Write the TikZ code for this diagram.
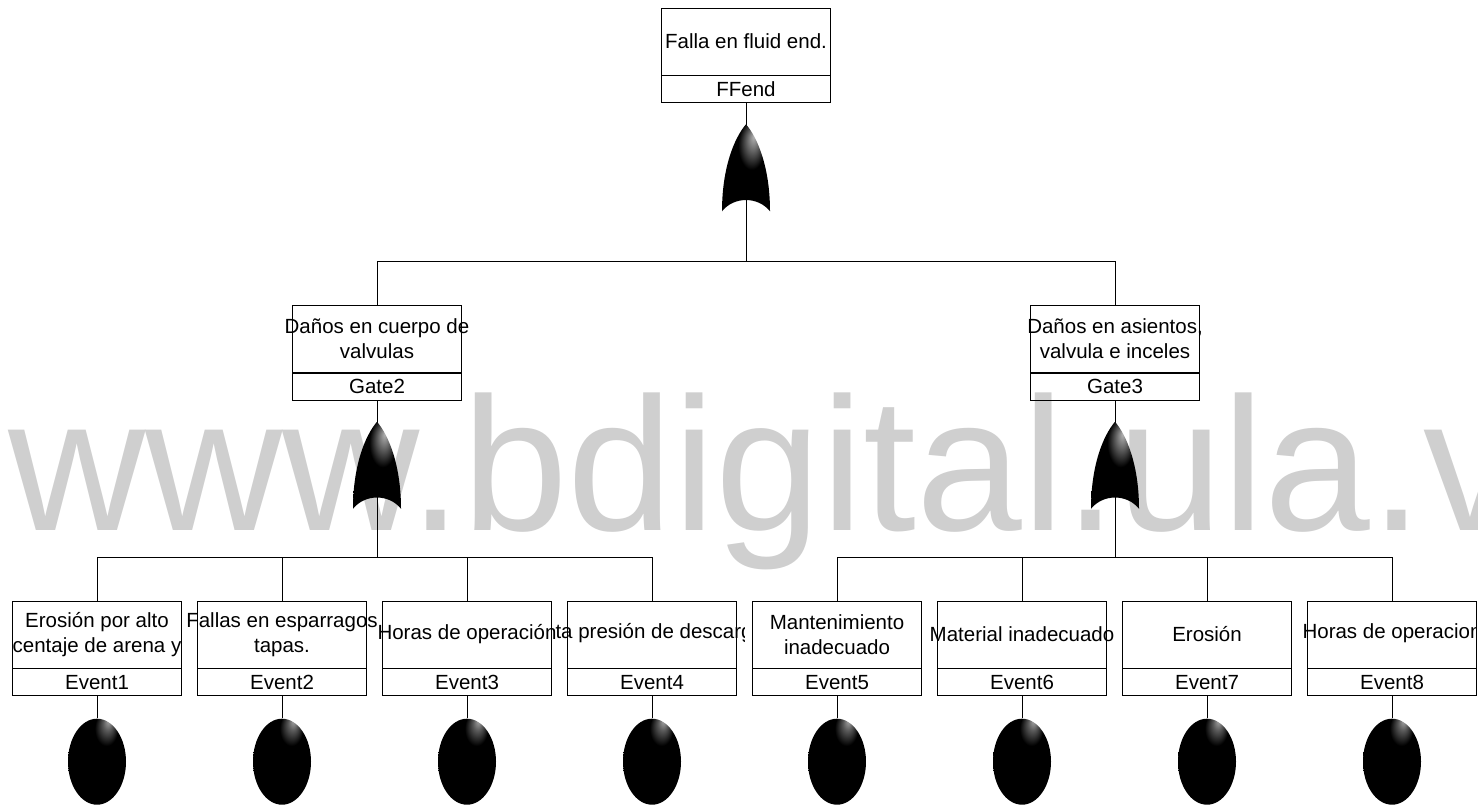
\documentclass[tikz,border=0pt]{standalone}
\usepackage{fontspec}
\setmainfont{Liberation Sans}
\usetikzlibrary{positioning,calc,shapes.geometric}

\pgfdeclareradialshading{gloss}{\pgfpoint{10bp}{24bp}}{color(0bp)=(black!35); color(4bp)=(black!65); color(10bp)=(black); color(50bp)=(black)}
\pgfdeclareradialshading{gategloss}{\pgfpoint{8bp}{18bp}}{color(0bp)=(black!30); color(6bp)=(black!60); color(14bp)=(black); color(50bp)=(black)}

\tikzset{
  desc/.style={draw, minimum width=169pt, minimum height=67pt, inner sep=0pt},
  ident/.style={draw, minimum width=169pt, minimum height=27pt, inner sep=0pt},
  lbl/.style={align=center, inner sep=0pt},
  basic/.style={ellipse, minimum width=58pt, minimum height=86pt, inner sep=0pt, shade, shading=gloss},
  orgate/.pic={
    \shade[shading=gategloss] (0,0) .. controls (12,14) and (24,44) .. (24,87)
      .. controls (12,72) and (-12,72) .. (-24,87)
      .. controls (-24,44) and (-12,14) .. (0,0) -- cycle;
  }
}

\begin{document}
\begin{tikzpicture}[x=1pt, y=-1pt, line width=0.85pt, font=\fontsize{20.5}{25}\selectfont]
\useasboundingbox (0,0) rectangle (1478,805);

\node[anchor=base west, inner sep=0pt, text=black!19, font=\fontsize{190}{190}\selectfont] (wm) at (8,530) {www.bdigital.ula.ve};

% top event
\node[desc] (ff) at (746,41.5) {};
\node[ident, below=0pt of ff] (ffid) {FFend};
\node[lbl] (fft) at (ff) {Falla en fluid end.};

% intermediate gates
\node[desc] (g2) at (377,339) {};
\node[ident, below=0pt of g2] (g2id) {Gate2};
\node[lbl] (g2t) at (g2) {Daños en cuerpo de\\valvulas};
\node[desc] (g3) at (1115,339) {};
\node[ident, below=0pt of g3] (g3id) {Gate3};
\node[lbl] (g3t) at (g3) {Daños en asientos,\\valvula e inceles};

% basic events
\node[desc] (e1) at (97,634.5) {};
\node[desc] (e2) at (282,634.5) {};
\node[desc] (e3) at (467,634.5) {};
\node[desc] (e4) at (652,634.5) {};
\node[desc] (e5) at (837,634.5) {};
\node[desc] (e6) at (1022,634.5) {};
\node[desc] (e7) at (1207,634.5) {};
\node[desc] (e8) at (1392,634.5) {};
\node[ident, below=0pt of e1] (e1id) {Event1};
\node[ident, below=0pt of e2] (e2id) {Event2};
\node[ident, below=0pt of e3] (e3id) {Event3};
\node[ident, below=0pt of e4] (e4id) {Event4};
\node[ident, below=0pt of e5] (e5id) {Event5};
\node[ident, below=0pt of e6] (e6id) {Event6};
\node[ident, below=0pt of e7] (e7id) {Event7};
\node[ident, below=0pt of e8] (e8id) {Event8};

\node[lbl] (e1t) at (e1) {Erosión por alto\\centaje de arena y};
\node[lbl] (e2t) at (e2) {Fallas en esparragos\\tapas.};
\node[lbl] (e3t) at (e3) {Horas de operación};
\begin{scope}
  \clip ($(e4.north west)+(-20,0)$) rectangle ($(e4.south east)+(8,0)$);
  \node[lbl, anchor=west] (e4t) at ($(e4.west)+(-12,-1)$) {ta presión de descarg};
\end{scope}
\node[lbl] (e5t) at (e5) {Mantenimiento\\inadecuado};
\node[lbl] (e6t) at (e6) {Material inadecuado};
\node[lbl] (e7t) at (e7) {Erosión};
\begin{scope}
  \clip ($(e8.north west)+(-10,0)$) rectangle (e8.south east);
  \node[lbl] (e8t) at ($(e8)+(0,-1)$) {Horas de operacion};
\end{scope}

% connectors
\draw (g2.north) -- ++(0,-44) coordinate (topbar) -| (g3.north);
\draw (ffid.south) -- (ffid.south |- topbar);
\draw (e1.north) -- ++(0,-43) coordinate (lbar) -| (e4.north);
\draw (e2.north) -- (e2.north |- lbar);
\draw (e3.north) -- (e3.north |- lbar);
\draw (g2id.south) -- (g2id.south |- lbar);
\draw (e5.north) -- ++(0,-43) coordinate (rbar) -| (e8.north);
\draw (e6.north) -- (e6.north |- rbar);
\draw (e7.north) -- (e7.north |- rbar);
\draw (g3id.south) -- (g3id.south |- rbar);

% or gates
\pic at ($(ffid.south)+(0,21)$) {orgate};
\pic at ($(g2id.south)+(0,21)$) {orgate};
\pic at ($(g3id.south)+(0,21)$) {orgate};

% basic event circles
\node[basic, below=22pt of e1id] (b1) {};
\node[basic, below=22pt of e2id] (b2) {};
\node[basic, below=22pt of e3id] (b3) {};
\node[basic, below=22pt of e4id] (b4) {};
\node[basic, below=22pt of e5id] (b5) {};
\node[basic, below=22pt of e6id] (b6) {};
\node[basic, below=22pt of e7id] (b7) {};
\node[basic, below=22pt of e8id] (b8) {};
\draw (e1id.south) -- (b1.north);
\draw (e2id.south) -- (b2.north);
\draw (e3id.south) -- (b3.north);
\draw (e4id.south) -- (b4.north);
\draw (e5id.south) -- (b5.north);
\draw (e6id.south) -- (b6.north);
\draw (e7id.south) -- (b7.north);
\draw (e8id.south) -- (b8.north);
\end{tikzpicture}
\end{document}
